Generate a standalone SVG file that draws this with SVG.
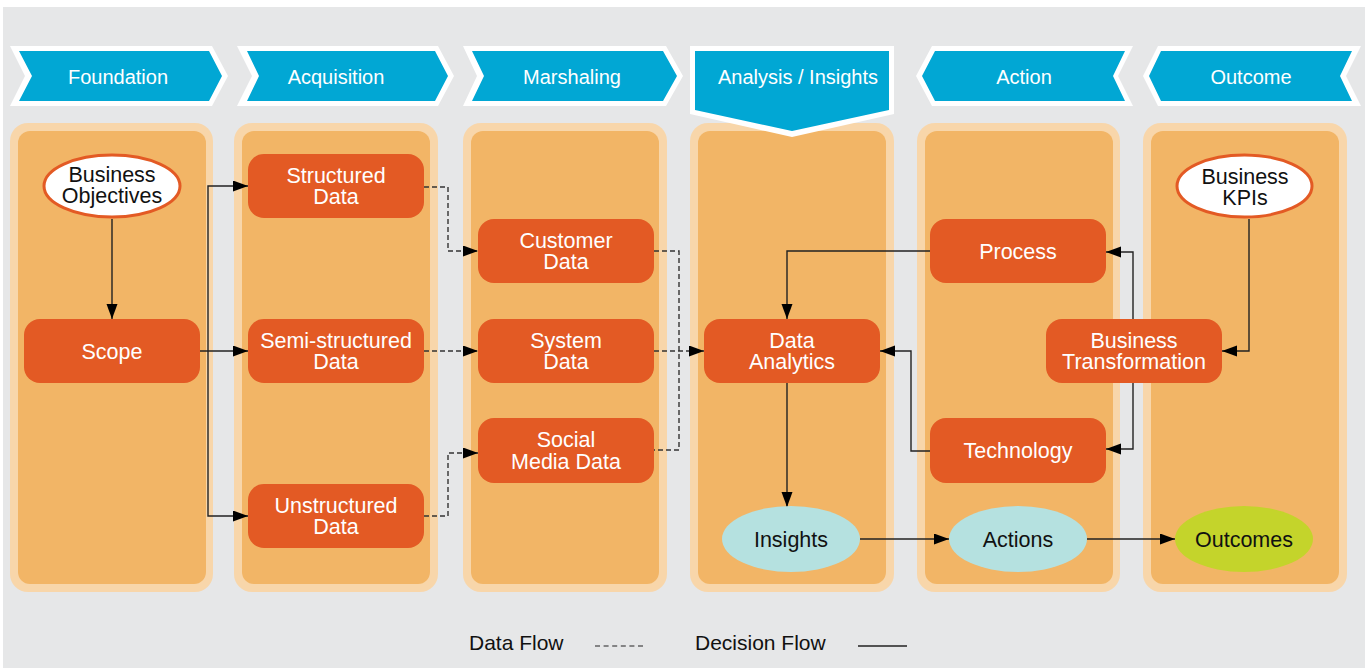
<svg xmlns="http://www.w3.org/2000/svg" width="1370" height="668" viewBox="0 0 1370 668">
  <defs>
    <marker id="arrow" markerUnits="userSpaceOnUse" markerWidth="16" markerHeight="12" refX="15" refY="5.5" orient="auto">
      <path d="M0,0 L15,5.5 L0,11 z" fill="#000"/>
    </marker>
    <style>
      text { font-family: "Liberation Sans", Arial, Helvetica, sans-serif; text-anchor: middle; }
      .band-out { fill: #F8D6AA; }
      .band-in { fill: #F2B566; }
      .ban-out { fill: #FFFFFF; }
      .ban-in { fill: #01A7D4; }
      .ban-txt { fill: #FFFFFF; font-size: 20px; }
      .box { fill: #E35A24; }
      .box-txt { fill: #FFFFFF; font-size: 21.5px; }
      .oval { fill: #FFFFFF; stroke: #E35A24; stroke-width: 3; }
      .oval-txt { fill: #111; font-size: 21.5px; }
      .teal { fill: #B5E1E0; }
      .lime { fill: #C4D42B; }
      .solid { fill: none; stroke: #222; stroke-width: 1.4; }
      .dash { fill: none; stroke: #333; stroke-width: 1.4; stroke-dasharray: 5 3; }
      .legend { fill: #111; font-size: 21px; text-anchor: start; }
    </style>
  </defs>

  <!-- backdrop -->
  <rect x="0" y="0" width="1370" height="668" fill="#FFFFFF"/>
  <rect x="3" y="7" width="1362" height="661" fill="#E6E7E8"/>

  <!-- stage columns -->
  <g id="columns">
    <rect class="band-out" x="10" y="123" width="203" height="469" rx="18"/>
    <rect class="band-in" x="18" y="131" width="188" height="453" rx="12"/>
    <rect class="band-out" x="234" y="123" width="204" height="469" rx="18"/>
    <rect class="band-in" x="242" y="131" width="188" height="453" rx="12"/>
    <rect class="band-out" x="463" y="123" width="204" height="469" rx="18"/>
    <rect class="band-in" x="471" y="131" width="188" height="453" rx="12"/>
    <rect class="band-out" x="690" y="123" width="204" height="469" rx="18"/>
    <rect class="band-in" x="698" y="131" width="188" height="453" rx="12"/>
    <rect class="band-out" x="917" y="123" width="203" height="469" rx="18"/>
    <rect class="band-in" x="925" y="131" width="188" height="453" rx="12"/>
    <rect class="band-out" x="1143" y="123" width="204" height="469" rx="18"/>
    <rect class="band-in" x="1151" y="131" width="188" height="453" rx="12"/>
  </g>

  <!-- stage banners -->
  <g id="banner-foundation">
    <polygon class="ban-out" points="10,46 212,46 228,76 212,106 10,106 25,76"/>
    <polygon class="ban-in" points="19,51 209,51 222,76 209,101 19,101 32,76"/>
    <text class="ban-txt" x="118" y="84">Foundation</text>
  </g>
  <g id="banner-acquisition">
    <polygon class="ban-out" points="237,46 438,46 454,76 438,106 237,106 252,76"/>
    <polygon class="ban-in" points="247,51 435,51 448,76 435,101 247,101 259,76"/>
    <text class="ban-txt" x="336" y="84">Acquisition</text>
  </g>
  <g id="banner-marshaling">
    <polygon class="ban-out" points="463,46 666,46 683,76 666,106 463,106 477,76"/>
    <polygon class="ban-in" points="472,51 663,51 677,76 663,101 472,101 484,76"/>
    <text class="ban-txt" x="572" y="84">Marshaling</text>
  </g>
  <g id="banner-analysis">
    <polygon class="ban-out" points="690,46 894,46 894,114 792,137 690,114"/>
    <polygon class="ban-in" points="695,51 889,51 889,110 792,131 695,110"/>
    <text class="ban-txt" x="798" y="84">Analysis / Insights</text>
  </g>
  <g id="banner-action">
    <polygon class="ban-out" points="916,76 932,46 1133,46 1118,76 1133,106 932,106"/>
    <polygon class="ban-in" points="922,76 935,51 1125,51 1113,76 1125,101 935,101"/>
    <text class="ban-txt" x="1024" y="84">Action</text>
  </g>
  <g id="banner-outcome">
    <polygon class="ban-out" points="1143,76 1158,46 1361,46 1346,76 1361,106 1158,106"/>
    <polygon class="ban-in" points="1149,76 1161,51 1352,51 1340,76 1352,101 1161,101"/>
    <text class="ban-txt" x="1251" y="84">Outcome</text>
  </g>

  <!-- connectors -->
  <g id="connectors">
    <!-- decision flow -->
    <path class="solid" d="M112,219 V319" marker-end="url(#arrow)"/>
    <path class="solid" d="M200,351 H248" marker-end="url(#arrow)"/>
    <path class="solid" d="M208,351 V186 H248" marker-end="url(#arrow)"/>
    <path class="solid" d="M208,351 V516 H248" marker-end="url(#arrow)"/>
    <path class="solid" d="M930,251 H787 V319" marker-end="url(#arrow)"/>
    <path class="solid" d="M930,451 H911 V351 H880" marker-end="url(#arrow)"/>
    <path class="solid" d="M1133,319 V252 H1106" marker-end="url(#arrow)"/>
    <path class="solid" d="M1133,383 V449 H1106" marker-end="url(#arrow)"/>
    <path class="solid" d="M1249,219 V351 H1222" marker-end="url(#arrow)"/>
    <path class="solid" d="M787,383 V507" marker-end="url(#arrow)"/>
    <path class="solid" d="M860,539 H949" marker-end="url(#arrow)"/>
    <path class="solid" d="M1087,539 H1175" marker-end="url(#arrow)"/>
    <!-- data flow -->
    <path class="dash" d="M424,187 H448 V251 H478" marker-end="url(#arrow)"/>
    <path class="dash" d="M424,351 H478" marker-end="url(#arrow)"/>
    <path class="dash" d="M424,516 H448 V453 H478" marker-end="url(#arrow)"/>
    <path class="dash" d="M654,251 H679 V450 H654"/>
    <path class="dash" d="M654,351 H704" marker-end="url(#arrow)"/>
  </g>

  <!-- nodes -->
  <g id="business-objectives">
    <ellipse class="oval" cx="112" cy="186" rx="68" ry="31"/>
    <text class="oval-txt" x="112" y="182">Business<tspan x="112" dy="21">Objectives</tspan></text>
  </g>
  <g id="scope">
    <rect class="box" x="24" y="319" width="176" height="64" rx="16"/>
    <text class="box-txt" x="112" y="359">Scope</text>
  </g>
  <g id="structured-data">
    <rect class="box" x="248" y="154" width="176" height="64" rx="16"/>
    <text class="box-txt" x="336" y="183">Structured<tspan x="336" dy="21">Data</tspan></text>
  </g>
  <g id="semi-structured-data">
    <rect class="box" x="248" y="319" width="176" height="64" rx="16"/>
    <text class="box-txt" x="336" y="348">Semi-structured<tspan x="336" dy="21">Data</tspan></text>
  </g>
  <g id="unstructured-data">
    <rect class="box" x="248" y="484" width="176" height="64" rx="16"/>
    <text class="box-txt" x="336" y="513">Unstructured<tspan x="336" dy="21">Data</tspan></text>
  </g>
  <g id="customer-data">
    <rect class="box" x="478" y="219" width="176" height="64" rx="16"/>
    <text class="box-txt" x="566" y="248">Customer<tspan x="566" dy="21">Data</tspan></text>
  </g>
  <g id="system-data">
    <rect class="box" x="478" y="319" width="176" height="64" rx="16"/>
    <text class="box-txt" x="566" y="348">System<tspan x="566" dy="21">Data</tspan></text>
  </g>
  <g id="social-media-data">
    <rect class="box" x="478" y="418" width="176" height="65" rx="16"/>
    <text class="box-txt" x="566" y="447">Social<tspan x="566" dy="22">Media Data</tspan></text>
  </g>
  <g id="data-analytics">
    <rect class="box" x="704" y="319" width="176" height="64" rx="16"/>
    <text class="box-txt" x="792" y="348">Data<tspan x="792" dy="21">Analytics</tspan></text>
  </g>
  <g id="insights">
    <ellipse class="teal" cx="791" cy="539" rx="69" ry="33"/>
    <text class="oval-txt" x="791" y="547">Insights</text>
  </g>
  <g id="process">
    <rect class="box" x="930" y="219" width="176" height="64" rx="16"/>
    <text class="box-txt" x="1018" y="259">Process</text>
  </g>
  <g id="technology">
    <rect class="box" x="930" y="418" width="176" height="65" rx="16"/>
    <text class="box-txt" x="1018" y="458">Technology</text>
  </g>
  <g id="actions">
    <ellipse class="teal" cx="1018" cy="539" rx="69" ry="33"/>
    <text class="oval-txt" x="1018" y="547">Actions</text>
  </g>
  <g id="business-kpis">
    <ellipse class="oval" cx="1244.5" cy="186" rx="67.5" ry="31"/>
    <text class="oval-txt" x="1245" y="184">Business<tspan x="1245" dy="21">KPIs</tspan></text>
  </g>
  <g id="business-transformation">
    <rect class="box" x="1046" y="319" width="176" height="64" rx="16"/>
    <text class="box-txt" x="1134" y="348">Business<tspan x="1134" dy="21">Transformation</tspan></text>
  </g>
  <g id="outcomes">
    <ellipse class="lime" cx="1244" cy="539" rx="69" ry="33"/>
    <text class="oval-txt" x="1244" y="547">Outcomes</text>
  </g>

  <!-- legend -->
  <g id="legend">
    <text class="legend" x="469" y="650">Data Flow</text>
    <path class="dash" d="M595,646 H644" style="stroke:#222;stroke-width:1.2;stroke-dasharray:5 3.6"/>
    <text class="legend" x="695" y="650">Decision Flow</text>
    <path class="solid" d="M858,646 H907"/>
  </g>
</svg>
